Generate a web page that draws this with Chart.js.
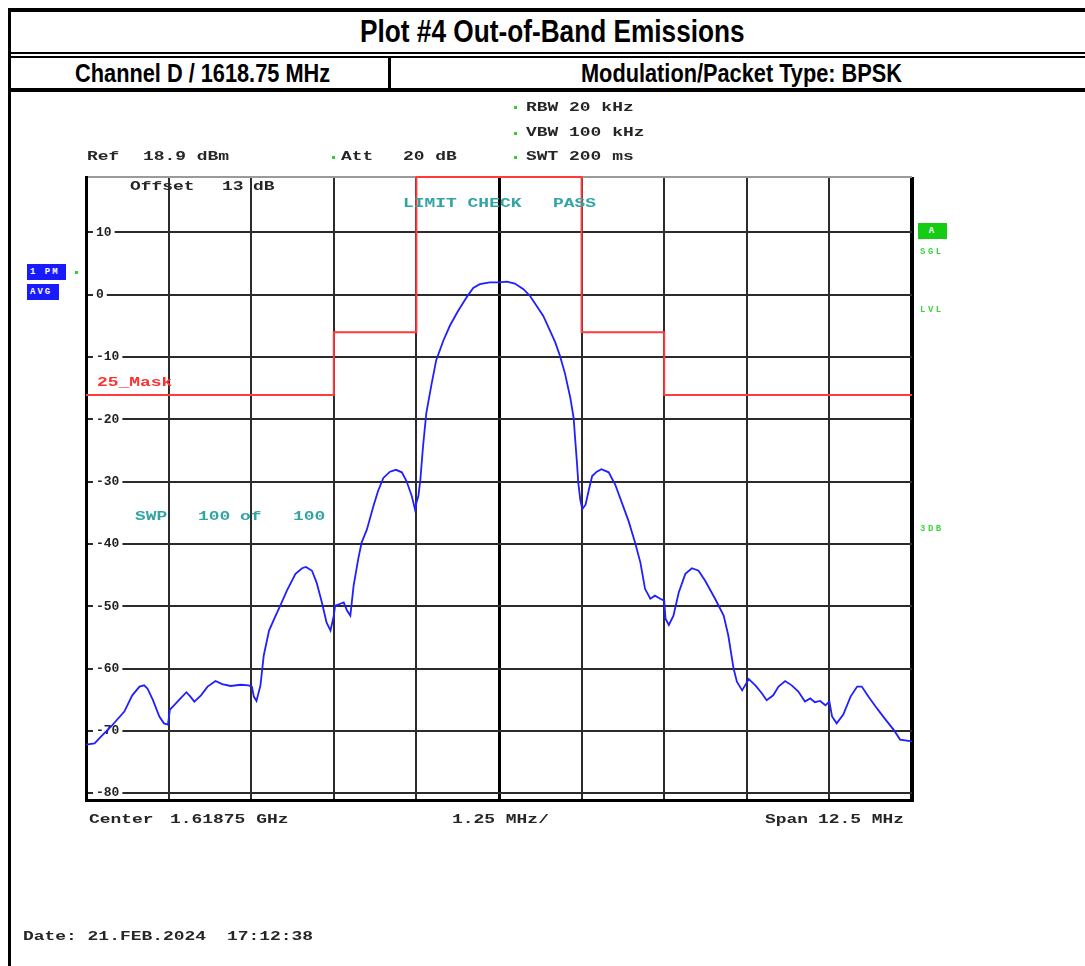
<!DOCTYPE html>
<html>
<head>
<meta charset="utf-8">
<script src="https://cdn.jsdelivr.net/npm/chart.js@4/dist/chart.umd.min.js"></script>
<style>
  body { margin: 0; background: #fff; }
  #page { position: relative; width: 1085px; height: 966px; overflow: hidden; background: #fff; }
  #spec { position: absolute; left: 0; top: 0; }
  .ln { position: absolute; background: #000; }
  .hd { position: absolute; font-family: 'Liberation Sans', Arial, sans-serif;
        font-weight: bold; color: #000; text-align: center; white-space: nowrap; }
  .hd span { display: inline-block; transform-origin: 50% 50%; }
  .m { position: absolute; font: bold 13px/13px 'Liberation Mono', 'DejaVu Sans Mono', monospace;
       white-space: pre; color: #262626; transform: scaleX(1.38); transform-origin: 0 0; }
  .teal { color: #32a4a4; }
  .red { color: #ff3030; }
  .g { position: absolute; font: bold 9px/9px 'Liberation Mono', monospace; letter-spacing: 2.5px; color: #3ad83a; }
  .dot { position: absolute; width: 3px; height: 3px; background: #33cc33; }
  .box { position: absolute; color: #fff; font: bold 9px/16px 'Liberation Mono', monospace; letter-spacing: 2px; padding-left: 3px; box-sizing: border-box; }
</style>
</head>
<body>
<div id="page">
  <!-- report header table -->
  <div class="ln" style="left:8px;top:8px;width:1085px;height:4px"></div>
  <div class="ln" style="left:8px;top:8px;width:3px;height:958px"></div>
  <div class="hd" style="left:11px;top:15px;width:1082px;font-size:31px;line-height:34px"><span style="transform:scaleX(0.846)">Plot #4 Out-of-Band Emissions</span></div>
  <div class="ln" style="left:8px;top:52px;width:1085px;height:2px"></div>
  <div class="ln" style="left:8px;top:56px;width:1085px;height:2px"></div>
  <div class="hd" style="left:14px;top:59px;width:377px;font-size:25px;line-height:28px"><span style="transform:scaleX(0.87)">Channel D / 1618.75 MHz</span></div>
  <div class="ln" style="left:388px;top:57px;width:3px;height:33px"></div>
  <div class="hd" style="left:391px;top:59px;width:702px;font-size:25px;line-height:28px"><span style="transform:scaleX(0.87)">Modulation/Packet Type: BPSK</span></div>
  <div class="ln" style="left:8px;top:88px;width:1085px;height:4px"></div>

  <canvas id="spec" width="1085" height="966"></canvas>

  <!-- analyzer annotations -->
  <div class="dot" style="left:514px;top:106px"></div>
  <div class="m" style="left:526px;top:101px">RBW 20 kHz</div>
  <div class="dot" style="left:514px;top:132px"></div>
  <div class="m" style="left:526px;top:126px">VBW 100 kHz</div>
  <div class="dot" style="left:514px;top:156px"></div>
  <div class="m" style="left:526px;top:150px">SWT 200 ms</div>
  <div class="m" style="left:87px;top:150px">Ref</div>
  <div class="m" style="left:143px;top:150px">18.9 dBm</div>
  <div class="dot" style="left:332px;top:156px"></div>
  <div class="m" style="left:341px;top:150px">Att</div>
  <div class="m" style="left:403px;top:150px">20 dB</div>
  <div class="m" style="left:130px;top:180px">Offset</div>
  <div class="m" style="left:222px;top:180px">13</div>
  <div class="m" style="left:253px;top:180px">dB</div>
  <div class="m teal" style="left:403px;top:197px">LIMIT CHECK</div>
  <div class="m teal" style="left:553px;top:197px">PASS</div>
  <div class="m red" style="left:97px;top:376px">25_Mask</div>
  <div class="m teal" style="left:135px;top:510px">SWP</div>
  <div class="m teal" style="left:198px;top:510px">100</div>
  <div class="m teal" style="left:240px;top:510px">of</div>
  <div class="m teal" style="left:293px;top:510px">100</div>
  <div class="m" style="left:89px;top:813px">Center</div>
  <div class="m" style="left:170px;top:813px">1.61875 GHz</div>
  <div class="m" style="left:452px;top:813px">1.25 MHz/</div>
  <div class="m" style="left:765px;top:813px">Span</div>
  <div class="m" style="left:818px;top:813px">12.5 MHz</div>
  <div class="m" style="left:23px;top:930px">Date: 21.FEB.2024</div>
  <div class="m" style="left:227px;top:930px">17:12:38</div>

  <div class="box" style="left:27px;top:264px;width:39px;height:16px;background:#1a1aff">1 PM</div>
  <div class="box" style="left:27px;top:284px;width:32px;height:16px;background:#1a1aff">AVG</div>
  <div class="dot" style="left:75px;top:271px"></div>
  <div class="box" style="left:918px;top:223px;width:29px;height:16px;background:#14cc14;text-align:center;padding-left:0">A</div>
  <div class="g" style="left:920px;top:248px">SGL</div>
  <div class="g" style="left:920px;top:306px">LVL</div>
  <div class="g" style="left:920px;top:525px">3DB</div>
</div>

<script>
// frequency offset from centre 1618.75 MHz (MHz) and level (dBm)
const traceMHz = [-6.25,-6.12,-6.02,-5.87,-5.67,-5.55,-5.44,-5.37,-5.32,-5.24,-5.14,-5.07,-5.01,-4.98,-4.89,-4.82,
  -4.73,-4.67,-4.61,-4.51,-4.41,-4.29,-4.19,-4.06,-3.91,-3.79,-3.74,-3.71,-3.67,-3.61,-3.56,-3.48,-3.38,-3.31,
  -3.21,-3.08,-2.98,-2.92,-2.83,-2.76,-2.68,-2.61,-2.55,-2.50,-2.48,-2.40,-2.35,-2.30,-2.25,-2.20,-2.13,-2.08,
  -2.00,-1.90,-1.83,-1.75,-1.65,-1.56,-1.47,-1.40,-1.32,-1.27,-1.25,-1.22,-1.19,-1.15,-1.10,-1.02,-0.95,-0.84,
  -0.74,-0.62,-0.49,-0.39,-0.29,-0.14,0,
  0.12,0.24,0.37,0.47,0.57,0.67,0.77,0.85,0.92,1.00,1.08,1.13,1.15,1.18,1.20,1.23,1.26,1.31,1.36,1.41,1.48,1.55,
  1.66,1.76,1.86,1.96,2.06,2.14,2.21,2.29,2.36,2.44,2.50,2.52,2.57,2.64,2.72,2.82,2.92,3.02,3.12,3.27,3.40,3.47,
  3.55,3.60,3.68,3.78,3.88,3.98,4.05,4.15,4.23,4.33,4.43,4.53,4.63,4.71,4.78,4.86,4.94,5.00,5.04,5.11,5.21,5.32,
  5.42,5.49,5.59,5.72,5.85,5.97,6.07,6.25];
const traceDbm = [-72.2,-72,-70.9,-69.3,-66.9,-64.3,-62.9,-62.7,-63.2,-65,-67.7,-68.8,-69,-66.6,-65.6,-64.8,
  -63.8,-64.5,-65.3,-64.3,-62.9,-62,-62.5,-62.8,-62.6,-62.7,-62.9,-64.5,-65.2,-62.7,-57.9,-53.9,-51.5,-49.9,
  -47.5,-44.8,-43.9,-43.7,-44.3,-46.2,-49.4,-52.6,-53.9,-51.5,-49.9,-49.6,-49.4,-50.7,-51.5,-46.7,-42.4,-39.8,
  -37.7,-33.9,-31.5,-29.4,-28.4,-28.1,-28.5,-29.9,-32.3,-34.5,-33.4,-32.3,-29.7,-24.4,-19,-14.3,-10.5,-7.3,
  -4.9,-2.6,-0.4,1.1,1.7,2,2,
  2.1,1.8,0.9,-0.2,-1.8,-3.4,-5.7,-7.6,-9.7,-12.7,-16.6,-19.8,-22.8,-27,-30.2,-32.9,-34.4,-33.7,-31.3,-29.1,-28.4,-28,
  -28.5,-30.5,-33.4,-36.3,-39.8,-43,-47.2,-48.8,-48.3,-48.8,-49.1,-52,-53,-51.5,-47.8,-44.8,-43.9,-44.3,-45.9,-48.8,-51.5,-54.7,
  -60,-62.1,-63.5,-61.7,-62.7,-64,-65.1,-64.3,-62.9,-62,-62.7,-63.7,-65.3,-64.8,-65.4,-65.2,-65.9,-65.3,-67.7,-68.8,-67.4,-64.5,
  -62.9,-62.9,-64.5,-66.4,-68.2,-69.8,-71.4,-71.7];

// limit mask "25_Mask" (each level holds from its frequency to the next)
const maskMHz = [-6.25, -2.5, -1.25, 1.25, 2.5, 6.25];
const maskDbm = [-16.1, -6, 18.9, -6, -16.1, -16.1];

// axes: ref level 18.9 dBm, 10 dB/div, span 12.5 MHz (1.25 MHz/div)
const refDbm = 18.9;
const bottomDbm = -81.1;
const gridMHz = [-6.25, -5, -3.75, -2.5, -1.25, 0, 1.25, 2.5, 3.75, 5, 6.25];
const gridDbm = [18.9, 10, 0, -10, -20, -30, -40, -50, -60, -70, -80, -81.1];
const labelDbm = [10, 0, -10, -20, -30, -40, -50, -60, -70, -80];

const monoFont = { family: "'Liberation Mono', 'DejaVu Sans Mono', monospace", size: 13, weight: 'bold' };

new Chart(document.getElementById('spec'), {
  type: 'line',
  data: {
    datasets: [
      {
        data: traceMHz.map((f, i) => ({ x: f, y: traceDbm[i] })),
        borderColor: '#1f1fff',
        borderWidth: 1.8,
        pointRadius: 0,
        tension: 0
      },
      {
        data: maskMHz.map((f, i) => ({ x: f, y: maskDbm[i] })),
        borderColor: '#ff3b3b',
        borderWidth: 2,
        pointRadius: 0,
        stepped: 'before',
        clip: 3
      }
    ]
  },
  options: {
    responsive: false,
    animation: false,
    devicePixelRatio: 1,
    events: [],
    layout: { padding: { left: 66, top: 177, right: 173, bottom: 166 } },
    plugins: { legend: { display: false }, tooltip: { enabled: false } },
    scales: {
      x: {
        type: 'linear',
        min: -6.25,
        max: 6.25,
        afterBuildTicks: s => { s.ticks = gridMHz.map(v => ({ value: v })); },
        ticks: { display: false },
        grid: {
          drawTicks: false,
          color: c => (c.tick && (c.tick.value === 0 || Math.abs(c.tick.value) === 6.25)) ? '#000' : '#2b2b2b',
          lineWidth: c => !c.tick ? 2 : c.tick.value === 6.25 ? 4 : (c.tick.value === 0 || c.tick.value === -6.25) ? 3 : 2
        },
        border: { color: '#000', width: 3 }
      },
      y: {
        min: bottomDbm,
        max: refDbm,
        afterBuildTicks: s => { s.ticks = gridDbm.map(v => ({ value: v })); },
        ticks: {
          mirror: true,
          padding: 10,
          color: '#222',
          font: monoFont,
          callback: v => labelDbm.includes(v) ? String(v) : '',
          showLabelBackdrop: c => !!c.tick && labelDbm.includes(c.tick.value),
          backdropColor: '#fff',
          backdropPadding: { left: 3, right: 3, top: -3, bottom: -3 }
        },
        grid: {
          drawTicks: false,
          color: c => !c.tick ? '#2b2b2b' : c.tick.value === refDbm ? '#9a9a9a' : c.tick.value === bottomDbm ? 'rgba(0,0,0,0)' : '#2b2b2b',
          lineWidth: 2
        },
        border: { color: '#000', width: 3 }
      }
    }
  }
});
</script>
</body>
</html>
